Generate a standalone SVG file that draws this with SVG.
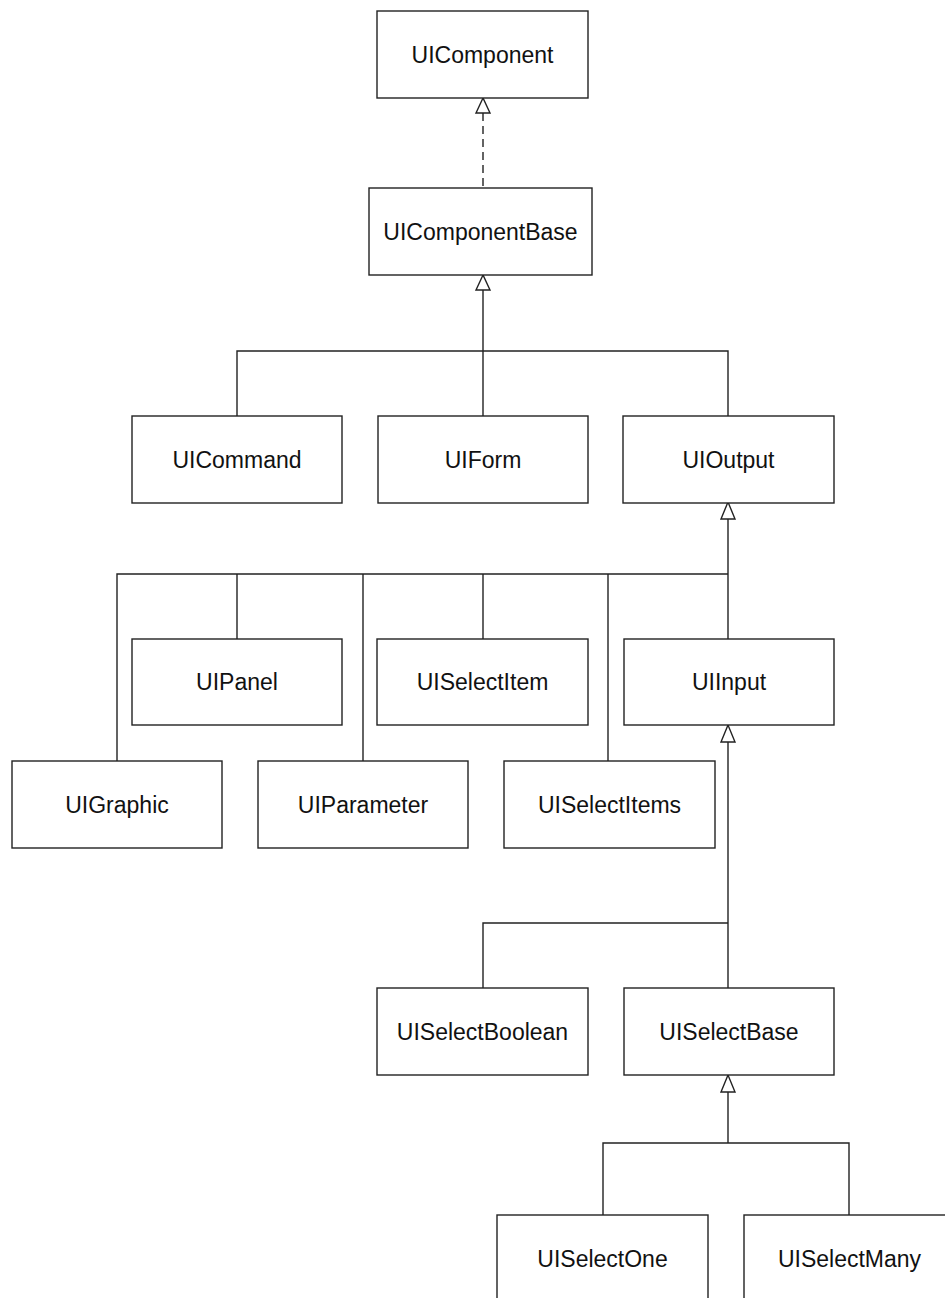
<svg xmlns="http://www.w3.org/2000/svg" width="945" height="1298" viewBox="0 0 945 1298">
<style>
.box{fill:#fff;stroke:#222;stroke-width:1.4}
.lbl{font-family:"Liberation Sans",Arial,sans-serif;font-size:23px;fill:#111;text-anchor:middle}
.ln{fill:none;stroke:#222;stroke-width:1.4}
.dash{stroke-dasharray:8,5}
.tri{fill:#fff;stroke:#222;stroke-width:1.4}
</style>
<rect width="945" height="1298" fill="#fff"/>
<g id="connectors">
<line class="ln dash" x1="483" y1="113" x2="483" y2="188"/>
<polygon class="tri" points="483,98 476,113 490,113"/>
<line class="ln" x1="483" y1="290" x2="483" y2="416"/>
<polyline class="ln" points="237,416 237,351 728,351 728,416"/>
<polygon class="tri" points="483,275 476,290 490,290"/>
<line class="ln" x1="728" y1="519" x2="728" y2="639"/>
<polyline class="ln" points="117,761 117,574 728,574"/>
<line class="ln" x1="237" y1="574" x2="237" y2="639"/>
<line class="ln" x1="363" y1="574" x2="363" y2="761"/>
<line class="ln" x1="483" y1="574" x2="483" y2="639"/>
<line class="ln" x1="608" y1="574" x2="608" y2="761"/>
<polygon class="tri" points="728,502 721,519 735,519"/>
<line class="ln" x1="728" y1="742" x2="728" y2="988"/>
<polyline class="ln" points="483,988 483,923 728,923"/>
<polygon class="tri" points="728,725 721,742 735,742"/>
<line class="ln" x1="728" y1="1092" x2="728" y2="1143"/>
<polyline class="ln" points="603,1215 603,1143 849,1143 849,1215"/>
<polygon class="tri" points="728,1075 721,1092 735,1092"/>
</g>
<g id="UIComponent"><rect class="box" x="377" y="11" width="211" height="87"/><text class="lbl" x="482.5" y="63">UIComponent</text></g>
<g id="UIComponentBase"><rect class="box" x="369" y="188" width="223" height="87"/><text class="lbl" x="480.5" y="240">UIComponentBase</text></g>
<g id="UICommand"><rect class="box" x="132" y="416" width="210" height="87"/><text class="lbl" x="237" y="468">UICommand</text></g>
<g id="UIForm"><rect class="box" x="378" y="416" width="210" height="87"/><text class="lbl" x="483" y="468">UIForm</text></g>
<g id="UIOutput"><rect class="box" x="623" y="416" width="211" height="87"/><text class="lbl" x="728.5" y="468">UIOutput</text></g>
<g id="UIPanel"><rect class="box" x="132" y="639" width="210" height="86"/><text class="lbl" x="237" y="690">UIPanel</text></g>
<g id="UISelectItem"><rect class="box" x="377" y="639" width="211" height="86"/><text class="lbl" x="482.5" y="690">UISelectItem</text></g>
<g id="UIInput"><rect class="box" x="624" y="639" width="210" height="86"/><text class="lbl" x="729" y="690">UIInput</text></g>
<g id="UIGraphic"><rect class="box" x="12" y="761" width="210" height="87"/><text class="lbl" x="117" y="813">UIGraphic</text></g>
<g id="UIParameter"><rect class="box" x="258" y="761" width="210" height="87"/><text class="lbl" x="363" y="813">UIParameter</text></g>
<g id="UISelectItems"><rect class="box" x="504" y="761" width="211" height="87"/><text class="lbl" x="609.5" y="813">UISelectItems</text></g>
<g id="UISelectBoolean"><rect class="box" x="377" y="988" width="211" height="87"/><text class="lbl" x="482.5" y="1040">UISelectBoolean</text></g>
<g id="UISelectBase"><rect class="box" x="624" y="988" width="210" height="87"/><text class="lbl" x="729" y="1040">UISelectBase</text></g>
<g id="UISelectOne"><rect class="box" x="497" y="1215" width="211" height="90"/><text class="lbl" x="602.5" y="1267">UISelectOne</text></g>
<g id="UISelectMany"><rect class="box" x="744" y="1215" width="211" height="90"/><text class="lbl" x="849.5" y="1267">UISelectMany</text></g>
</svg>
